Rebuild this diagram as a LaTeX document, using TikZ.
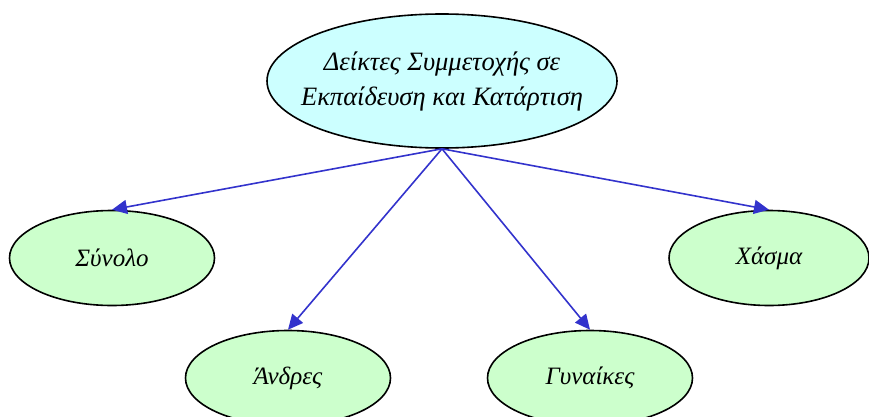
\documentclass[tikz,border=0pt]{standalone}
\usepackage{fontspec}
\setmainfont{Liberation Serif}
\usetikzlibrary{graphs,shapes.geometric,arrows.meta}
\definecolor{topfill}{RGB}{204,255,255}
\definecolor{leaffill}{RGB}{204,255,204}
\definecolor{edgeblue}{RGB}{51,51,204}
\tikzset{
  oval/.style={ellipse,draw=black,line width=1.6pt,inner sep=0pt,
    minimum width=205pt,minimum height=95pt,fill=leaffill,
    font=\fontsize{25}{35}\selectfont\itshape},
  link/.style={draw=edgeblue,line width=1.6pt,-{Triangle[length=15pt,width=14pt]}}
}
\begin{document}
\begin{tikzpicture}[x=1pt,y=1pt]
      \useasboundingbox (0,0) rectangle (869,416);
      \node[oval,fill=topfill,minimum width=350pt,minimum height=134pt,align=center,
        inner xsep=-30pt,font=\fontsize{26.5}{35}\selectfont\itshape] (top) at (442,335)
        {Δείκτες Συμμετοχής σε\\Εκπαίδευση και Κατάρτιση};
      \node[oval] (synolo) at (112,158) {Σύνολο};
      \node[oval] (andres) at (288,38) {Άνδρες};
      \node[oval] (gynaikes) at (590,38) {Γυναίκες};
      \node[oval,minimum width=200pt] (chasma) at (769,158) {Χάσμα};

      \graph[left anchor=south,right anchor=north,edges={link}]{
        (top) -> (synolo);
        (top) -> (andres);
        (top) -> (gynaikes);
        (top) -> (chasma)
      };
    \end{tikzpicture}
\end{document}
